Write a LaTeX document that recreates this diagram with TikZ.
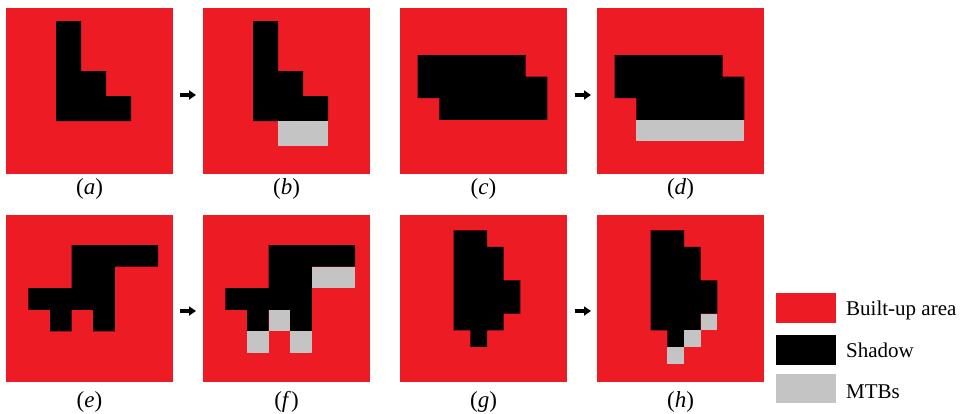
\documentclass[tikz,border=0pt]{standalone}
\usepackage{fontspec}
\setmainfont{Liberation Serif}
\usetikzlibrary{calc,arrows.meta}
\definecolor{bured}{HTML}{ED1C24}
\definecolor{mtbgray}{HTML}{C4C4C4}
\begin{document}
\begin{tikzpicture}[x=1pt,y=-1pt,
  panel/.style={fill=bured,draw=none,minimum width=167pt,minimum height=166pt,inner sep=0pt,outer sep=0pt,anchor=north west},
  shadow/.style={fill=black},
  mtb/.style={fill=mtbgray},
  captext/.style={font=\fontsize{23}{26}\selectfont,anchor=base,inner sep=0pt},
  legtext/.style={font=\fontsize{21}{24}\selectfont,anchor=base west,inner sep=0pt},
  legbox/.style={minimum width=60pt,minimum height=30pt,inner sep=0pt,outer sep=0pt,anchor=north west,draw=none},
  arr/.style={line width=4pt,-{Triangle[length=7pt,width=9pt]}}]
\useasboundingbox (0,0) rectangle (964,413);
\fill[white] (0,0) rectangle (964,413);
% panels
\node[panel] (pa) at (6,8) {};
\node[panel] (pb) at (203,8) {};
\node[panel] (pc) at (400,8) {};
\node[panel] (pd) at (597,8) {};
\node[panel,minimum height=167pt] (pe) at (6,215) {};
\node[panel,minimum height=167pt] (pf) at (203,215) {};
\node[panel,minimum height=167pt] (pg) at (400,215) {};
\node[panel,minimum height=167pt] (ph) at (597,215) {};
% (a)
\begin{scope}[shift={($(pa.north west)+(50,13)$)},x=25pt,y=-25pt]
\fill[shadow] (0,0)--(1,0)--(1,2)--(2,2)--(2,3)--(3,3)--(3,4)--(0,4)--cycle;
\end{scope}
% (b)
\begin{scope}[shift={($(pb.north west)+(50,13)$)},x=25pt,y=-25pt]
\fill[shadow] (0,0)--(1,0)--(1,2)--(2,2)--(2,3)--(3,3)--(3,4)--(0,4)--cycle;
\fill[mtb] (1,4) rectangle (3,5);
\end{scope}
% (c)
\begin{scope}[shift={($(pc.north west)+(17.7,47)$)},x=21.6pt,y=-21.6pt]
\fill[shadow] (0,0)--(5,0)--(5,1)--(6,1)--(6,3)--(1,3)--(1,2)--(0,2)--cycle;
\end{scope}
% (d)
\begin{scope}[shift={($(pd.north west)+(17.7,47)$)},x=21.6pt,y=-21.6pt]
\fill[shadow] (0,0)--(5,0)--(5,1)--(6,1)--(6,3)--(1,3)--(1,2)--(0,2)--cycle;
\fill[mtb] (1,3) rectangle (6,4);
\end{scope}
% (e)
\begin{scope}[shift={($(pe.north west)+(22.4,30)$)},x=21.6pt,y=-21.6pt]
\fill[shadow] (2,0)--(6,0)--(6,1)--(4,1)--(4,4)--(3,4)--(3,3)--(2,3)--(2,4)--(1,4)--(1,3)--(0,3)--(0,2)--(2,2)--cycle;
\end{scope}
% (f)
\begin{scope}[shift={($(pf.north west)+(22.4,30)$)},x=21.6pt,y=-21.6pt]
\fill[shadow] (2,0)--(6,0)--(6,1)--(4,1)--(4,4)--(3,4)--(3,3)--(2,3)--(2,4)--(1,4)--(1,3)--(0,3)--(0,2)--(2,2)--cycle;
\fill[mtb] (4,1) rectangle (6,2);
\fill[mtb] (2,3) rectangle (3,4);
\fill[mtb] (1,4) rectangle (2,5);
\fill[mtb] (3,4) rectangle (4,5);
\end{scope}
% (g)
\begin{scope}[shift={($(pg.north west)+(53.7,15.3)$)},x=16.67pt,y=-16.67pt]
\fill[shadow] (0,0)--(2,0)--(2,1)--(3,1)--(3,3)--(4,3)--(4,5)--(3,5)--(3,6)--(2,6)--(2,7)--(1,7)--(1,6)--(0,6)--cycle;
\end{scope}
% (h)
\begin{scope}[shift={($(ph.north west)+(53.7,15.3)$)},x=16.67pt,y=-16.67pt]
\fill[shadow] (0,0)--(2,0)--(2,1)--(3,1)--(3,3)--(4,3)--(4,5)--(3,5)--(3,6)--(2,6)--(2,7)--(1,7)--(1,6)--(0,6)--cycle;
\fill[mtb] (3,5) rectangle (4,6);
\fill[mtb] (2,6) rectangle (3,7);
\fill[mtb] (1,7) rectangle (2,8);
\end{scope}
% captions
\node[captext] (la) at ($(pa.south)+(0,20.5)$) {(\textit{a})};
\node[captext] (lb) at ($(pb.south)+(0,20.5)$) {(\textit{b})};
\node[captext] (lc) at ($(pc.south)+(0,20.5)$) {(\textit{c})};
\node[captext] (ld) at ($(pd.south)+(0,20.5)$) {(\textit{d})};
\node[captext] (le) at ($(pe.south)+(0,25.5)$) {(\textit{e})};
\node[captext] (lf) at ($(pf.south)+(0,25.5)$) {(\textit{f})};
\node[captext] (lg) at ($(pg.south)+(0,25.5)$) {(\textit{g})};
\node[captext] (lh) at ($(ph.south)+(0,25.5)$) {(\textit{h})};
% arrows
\coordinate (ab1) at (180,95); \coordinate (ab2) at (196,95);
\coordinate (cd1) at (575,95); \coordinate (cd2) at (591,95);
\coordinate (ef1) at (180,311); \coordinate (ef2) at (196,311);
\coordinate (gh1) at (575,311); \coordinate (gh2) at (591,311);
\draw[arr] (ab1) -- (ab2);
\draw[arr] (cd1) -- (cd2);
\draw[arr] (ef1) -- (ef2);
\draw[arr] (gh1) -- (gh2);
% legend
\node[legbox,fill=bured] (k1) at (776,292.7) {};
\node[legbox,fill=black] (k2) at (776,334.5) {};
\node[legbox,fill=mtbgray,minimum height=29pt] (k3) at (776,374) {};
\node[legtext] (t1) at (846,315.7) {Built-up area};
\node[legtext] (t2) at (846,357.3) {Shadow};
\node[legtext] (t3) at (846,398.3) {MTBs};
\end{tikzpicture}
\end{document}
